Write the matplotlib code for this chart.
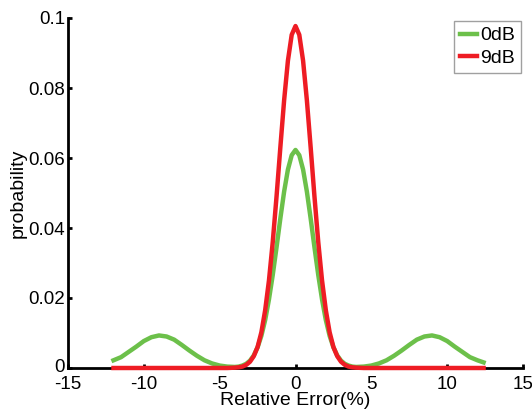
import matplotlib
matplotlib.use("Agg")
import matplotlib.pyplot as plt
import matplotlib.transforms as mtransforms

plt.rcParams['font.family'] = ['Liberation Sans', 'DejaVu Sans']

# x positions (Relative Error %)
x_vals = [-12.0, -11.5, -11.0, -10.5, -10.0, -9.5, -9.0, -8.5, -8.0, -7.5, -7.0,
          -6.5, -6.0, -5.5, -5.0, -4.5, -4.0, -3.75, -3.5, -3.25, -3.0, -2.75,
          -2.5, -2.25, -2.0, -1.75, -1.5, -1.25, -1.0, -0.75, -0.5, -0.25, 0.0,
          0.25, 0.5, 0.75, 1.0, 1.25, 1.5, 1.75, 2.0, 2.25, 2.5, 2.75, 3.0,
          3.25, 3.5, 3.75, 4.0, 4.5, 5.0, 5.5, 6.0, 6.5, 7.0, 7.5, 8.0, 8.5,
          9.0, 9.5, 10.0, 10.5, 11.0, 11.5, 12.0, 12.4]

# 0dB series
green_vals = [0.0022, 0.0031, 0.0046, 0.0061, 0.0077, 0.0088, 0.0093, 0.0090, 0.0081, 0.0066, 0.0050,
              0.0035, 0.0022, 0.0013, 0.0007, 0.0004, 0.0003, 0.0004, 0.0007, 0.0012, 0.0021, 0.0036,
              0.0059, 0.0092, 0.0137, 0.0196, 0.0266, 0.0345, 0.0427, 0.0504, 0.0567, 0.0608, 0.0623,
              0.0608, 0.0567, 0.0504, 0.0427, 0.0345, 0.0266, 0.0196, 0.0137, 0.0092, 0.0059, 0.0036, 0.0021,
              0.0012, 0.0007, 0.0004, 0.0003, 0.0004, 0.0007, 0.0013, 0.0022, 0.0035, 0.0050, 0.0066, 0.0081, 0.0090,
              0.0093, 0.0088, 0.0077, 0.0061, 0.0046, 0.0031, 0.0022, 0.0016]

# 9dB series
red_vals = [0.0, 0.0, 0.0, 0.0, 0.0, 0.0, 0.0, 0.0, 0.0, 0.0, 0.0,
            0.0, 0.0, 0.0, 0.0, 0.0, 0.0001, 0.0002, 0.0004, 0.0009, 0.0018, 0.0034,
            0.0060, 0.0102, 0.0165, 0.0250, 0.0360, 0.0490, 0.0630, 0.0765, 0.0878, 0.0952, 0.0977,
            0.0952, 0.0878, 0.0765, 0.0630, 0.0490, 0.0360, 0.0250, 0.0165, 0.0102, 0.0060, 0.0034, 0.0018,
            0.0009, 0.0004, 0.0002, 0.0001, 0.0, 0.0, 0.0, 0.0, 0.0, 0.0, 0.0, 0.0, 0.0,
            0.0, 0.0, 0.0, 0.0, 0.0, 0.0, 0.0, 0.0]

series_labels = ['0dB', '9dB']
x_ticks = [-15, -10, -5, 0, 5, 10, 15]
y_ticks = [0, 0.02, 0.04, 0.06, 0.08, 0.1]
y_ticklabels = ['0', '0.02', '0.04', '0.06', '0.08', '0.1']

fig = plt.figure(figsize=(5.32, 4.12), dpi=100)
ax = fig.add_axes([68/532, 44/412, 455/532, 350/412])

ax.plot(x_vals, green_vals, color='#6CC04A', lw=3.2, label=series_labels[0], clip_on=False, zorder=3)
ax.plot(x_vals, red_vals, color='#EE1C24', lw=3.2, label=series_labels[1], clip_on=False, zorder=4)

ax.set_xlim(-15, 15)
ax.set_ylim(0, 0.1)
ax.set_xticks(x_ticks)
ax.set_xticklabels([str(t) for t in x_ticks])
ax.set_yticks(y_ticks)
ax.set_yticklabels(y_ticklabels)
ax.spines['top'].set_visible(False)
ax.spines['right'].set_visible(False)
for s in ['left', 'bottom']:
    ax.spines[s].set_linewidth(2)
ax.tick_params(direction='in', length=3, width=2, labelsize=13.5)
ax.tick_params(axis='x', pad=6)
ax.tick_params(axis='y', pad=2)
ax.set_xlabel('Relative Error(%)', fontsize=14, labelpad=-1)
ax.set_ylabel('probability', fontsize=14, labelpad=1)

# nudge the y "0" label up slightly so it clears the "-15" x label
zero_lbl = ax.get_yticklabels()[0]
zero_lbl.set_transform(zero_lbl.get_transform() +
                       mtransforms.ScaledTranslation(0, 3/100, fig.dpi_scale_trans))

leg = ax.legend(loc='upper right', bbox_to_anchor=(521/532, 1 - 21/412), bbox_transform=fig.transFigure,
                fontsize=14, handlelength=0.9, handletextpad=0.15, borderpad=0.3,
                labelspacing=0.25, borderaxespad=0, fancybox=False, frameon=True)
leg.get_frame().set_edgecolor('#888888')
leg.get_frame().set_linewidth(1)

fig.savefig('out.png', dpi=100)
